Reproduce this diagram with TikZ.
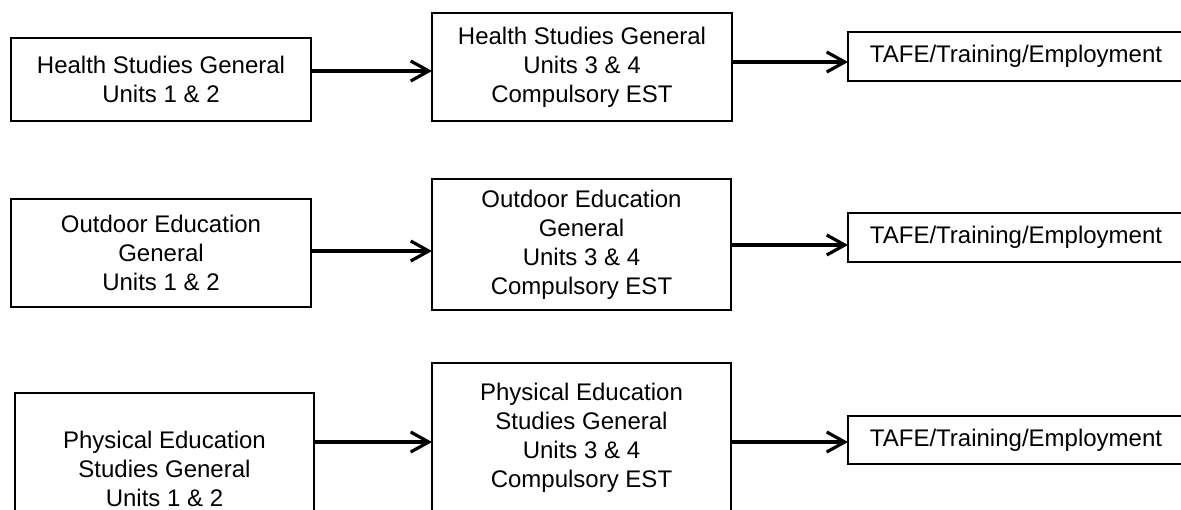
\documentclass[tikz,border=0pt]{standalone}
\usepackage{fontspec}
\setmainfont{Liberation Sans}
\usetikzlibrary{arrows.meta}

\begin{document}
\begin{tikzpicture}[x=0.5pt, y=-0.5pt,
			course/.style={draw, line width=0.85pt, outer sep=0pt, inner sep=0pt, align=center, anchor=north west, font=\fontsize{12}{14.5}\selectfont},
			flow/.style={line width=1.6pt, -{Straight Barb[length=9pt, width=10pt, line width=1.6pt]}}]
			\useasboundingbox (0,0) rectangle (1181,509);
			\clip (0,0) rectangle (1181,509);
			\node[course, minimum width=150pt, minimum height=41.5pt] (hs1) at (11,38) {Health Studies General\\Units 1 \& 2};
			\node[course, minimum width=150pt, minimum height=54pt] (hs2) at (432,13) {Health Studies General\\Units 3 \& 4\\Compulsory EST};
			\node[course, minimum width=168pt, minimum height=24.5pt] (job1) at (848,32) {TAFE/Training/Employment};
			\node[course, minimum width=150pt, minimum height=54pt] (od1) at (11,199) {Outdoor Education\\General\\Units 1 \& 2};
			\node[course, minimum width=149.5pt, minimum height=65.5pt] (od2) at (432,179) {Outdoor Education\\General\\Units 3 \& 4\\Compulsory EST};
			\node[course, minimum width=168pt, minimum height=24.5pt] (job2) at (848,213) {TAFE/Training/Employment};
			\node[course, minimum width=149.5pt, minimum height=76pt] (pe1) at (15,393) {Physical Education\\Studies General\\Units 1 \& 2};
			\node[course, minimum width=149.5pt, minimum height=75pt] (pe2) at (432,363) {Physical Education\\Studies General\\Units 3 \& 4\\Compulsory EST};
			\node[course, minimum width=168pt, minimum height=24pt] (job3) at (848,416) {TAFE/Training/Employment};
			\path[every edge/.append style={flow}]
			(hs1.east |- 0,71) edge (hs2.west |- 0,71)
			(hs2.east |- 0,62) edge (job1.west |- 0,62)
			(od1.east |- 0,251) edge (od2.west |- 0,251)
			(od2.east |- 0,245) edge (job2.west |- 0,245)
			(pe1.east |- 0,442) edge (pe2.west |- 0,442)
			(pe2.east |- 0,442) edge (job3.west |- 0,442);
		\end{tikzpicture}
\end{document}
